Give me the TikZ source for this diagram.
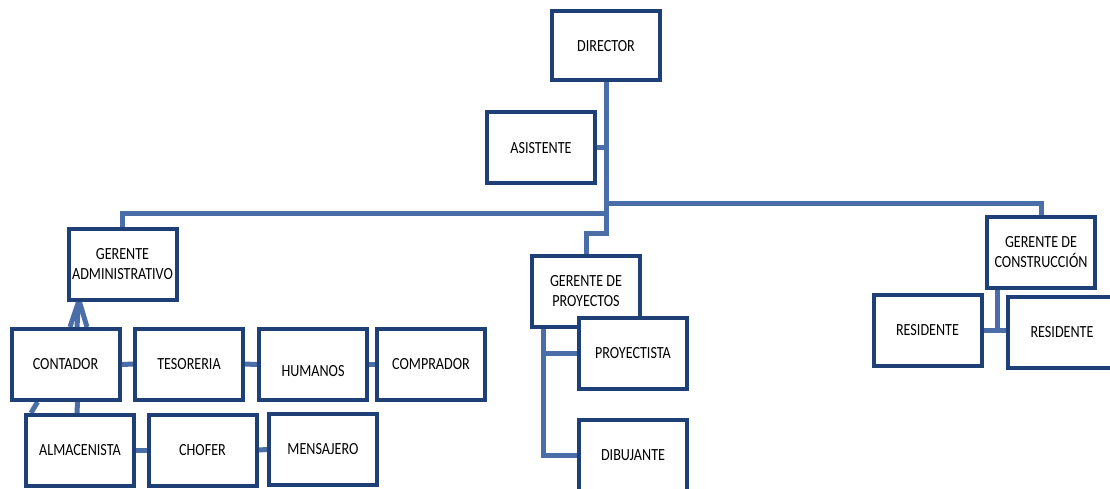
\documentclass[tikz,border=0pt]{standalone}
\usepackage{fontspec}
\setmainfont{Carlito}[FakeStretch=0.83]
\usepackage{tikz}
\usetikzlibrary{calc,positioning,backgrounds}
\usepackage{xcolor}
\definecolor{boxblue}{HTML}{1F3F77}
\definecolor{linkblue}{HTML}{4A6FA8}

\tikzset{
  puesto/.style={draw=boxblue,line width=4pt,fill=white,align=center,inner sep=1pt,
    minimum width=108pt,minimum height=71pt,font=\fontsize{17}{20}\selectfont},
  link/.style={draw=linkblue,line width=5pt}
}

\begin{document}
\begin{tikzpicture}[x=1pt,y=-1pt]
  \useasboundingbox (0,0) rectangle (1110,489);
  % top
  \node[puesto,minimum height=69pt] (director) at (606,46) {DIRECTOR};
  \node[puesto] (asistente) at (541,148) {ASISTENTE};
  % gerentes
  \node[puesto] (gadmin) at (122.5,264.5) {GERENTE\\ADMINISTRATIVO};
  \node[puesto] (gproy) at (586,291) {GERENTE DE\\PROYECTOS};
  \node[puesto] (gcons) at (1041,252) {GERENTE DE\\CONSTRUCCIÓN};
  % administracion
  \node[puesto] (contador) at (65.5,364.5) {CONTADOR};
  \node[puesto] (tesoreria) at (189,364) {TESORERIA};
  \node[puesto,text height=1.5ex,text depth=.25ex] (humanos) at (313,364.5) {\raisebox{-9pt}{HUMANOS}};
  \node[puesto] (comprador) at (431,364.5) {COMPRADOR};
  \node[puesto] (almacenista) at (80,450.5) {ALMACENISTA};
  \node[puesto] (chofer) at (202.5,450.5) {CHOFER};
  \node[puesto] (mensajero) at (323,449) {MENSAJERO};
  % proyectos
  \node[puesto] (proyectista) at (633,353.5) {PROYECTISTA};
  \node[puesto] (dibujante) at (633,455) {DIBUJANTE};
  % construccion
  \node[puesto] (residentea) at (927.5,330.5) {RESIDENTE};
  \node[puesto] (residenteb) at (1062,332.5) {RESIDENTE};

  \begin{scope}[on background layer]
    \draw[link] (director) -- (director |- 0,233) -| (gproy);
    \draw[link] (director |- 0,213) -| (gadmin);
    \draw[link] (director |- 0,203) -| (gcons);
    \draw[link] (asistente) -- (asistente -| director);
    % fan under gerente administrativo
    \draw[link] ([xshift=-44pt]gadmin.south) -- ([xshift=4.5pt]contador.north);
    \draw[link] ([xshift=-44pt]gadmin.south) -- ([xshift=11.5pt]contador.north);
    \draw[link] ([xshift=-43pt]gadmin.south) -- ([xshift=21.5pt]contador.north);
    \draw[link] (contador) -- (tesoreria);
    \draw[link] (tesoreria) -- (humanos);
    \draw[link] (humanos) -- (comprador);
    \draw[link] ([xshift=-28pt]contador.south) -- ([xshift=-49pt]almacenista.north);
    \draw[link] ([xshift=12pt]contador.south) -- ([xshift=-3pt]almacenista.north);
    \draw[link] (almacenista) -- (chofer);
    \draw[link] (chofer) -- (mensajero);
    % proyectos
    \draw[link] ([xshift=-43pt]gproy.south) |- (dibujante);
    \draw[link] ([xshift=-43pt]gproy.south |- proyectista) -- (proyectista);
    % construccion
    \draw[link] ([xshift=-44pt]gcons.south) |- (residentea);
    \draw[link] (residentea) -- (residentea -| residenteb);
  \end{scope}
\end{tikzpicture}
\end{document}
